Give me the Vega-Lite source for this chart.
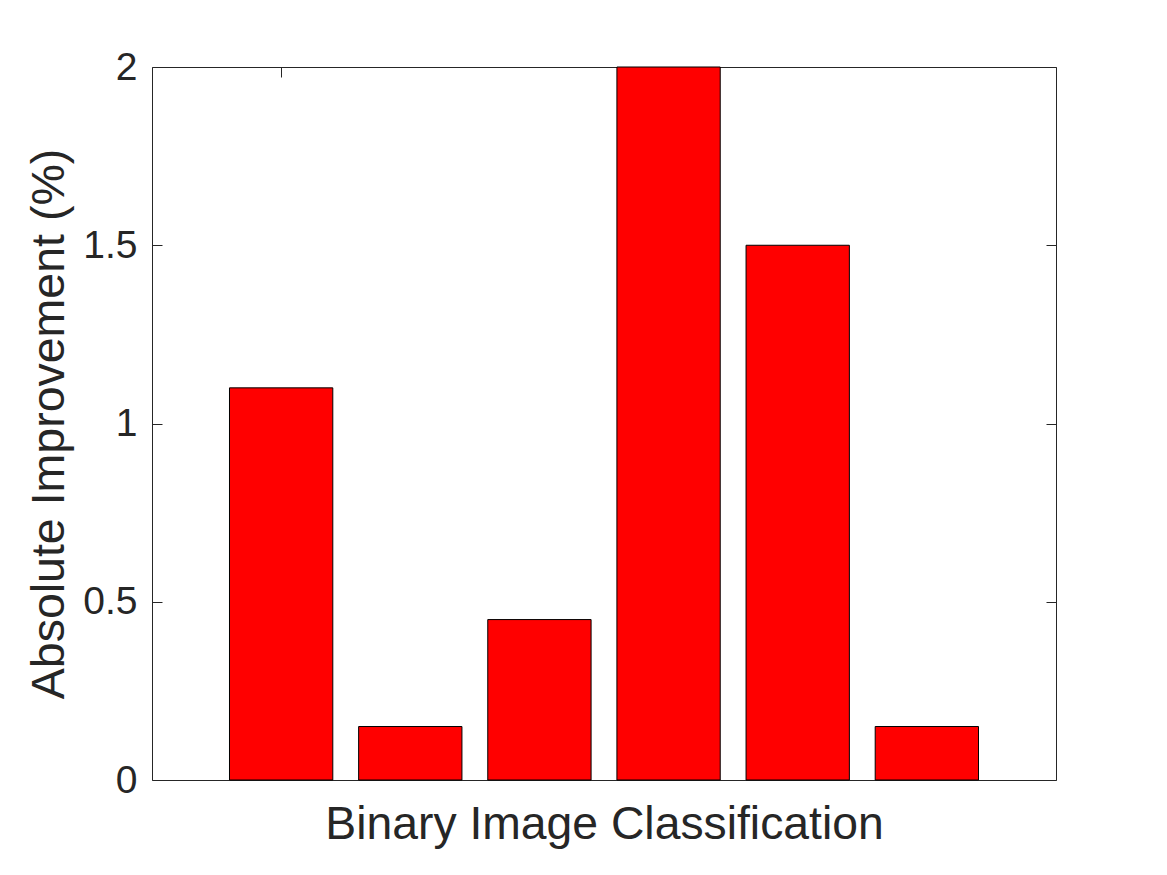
{
  "$schema": "https://vega.github.io/schema/vega-lite/v6.json",
  "width": 904,
  "height": 713,
  "autosize": {"type": "none"},
  "padding": {"left": 152, "top": 67, "right": 111, "bottom": 95},
  "background": "white",
  "config": {
    "view": {"stroke": null},
    "font": "Liberation Sans",
    "axis": {
      "grid": false,
      "domainColor": "#262626",
      "domainWidth": 1,
      "tickColor": "#262626",
      "tickWidth": 1,
      "labelColor": "#262626",
      "titleColor": "#262626",
      "titleFontWeight": "normal",
      "labelFont": "Liberation Sans",
      "titleFont": "Liberation Sans"
    }
  },
  "data": {
    "values": [
      {"cat": "1", "value": 1.1},
      {"cat": "2", "value": 0.15},
      {"cat": "3", "value": 0.45},
      {"cat": "4", "value": 2.0},
      {"cat": "5", "value": 1.5},
      {"cat": "6", "value": 0.15}
    ]
  },
  "layer": [
    {
      "mark": {"type": "bar", "fill": "#ff0000", "stroke": "#000000", "strokeWidth": 1},
      "encoding": {
        "x": {
          "field": "cat",
          "type": "nominal",
          "sort": null,
          "scale": {"paddingInner": 0.2, "paddingOuter": 0.6},
          "axis": {
            "orient": "bottom",
            "values": ["1"],
            "labels": false,
            "tickSize": -10,
            "title": "Binary Image Classification",
            "titleFontSize": 46.3,
            "titleBaseline": "alphabetic",
            "titleY": 58,
            "titleAlign": "center"
          }
        },
        "y": {
          "field": "value",
          "type": "quantitative",
          "scale": {"domain": [0, 2], "nice": false, "zero": true},
          "axis": {
            "orient": "left",
            "values": [0, 0.5, 1, 1.5, 2],
            "format": "~g",
            "tickSize": -10,
            "labelFontSize": 39,
            "labelPadding": 25,
            "labelFlush": false,
            "labelOverlap": false,
            "title": "Absolute Improvement (%)",
            "titleFontSize": 46.5,
            "titleAngle": 270,
            "titleBaseline": "alphabetic",
            "titleAlign": "center",
            "titleX": -89,
            "titleY": 356.5
          }
        }
      }
    },
    {
      "mark": {"type": "bar", "opacity": 0},
      "encoding": {
        "x": {
          "field": "cat",
          "type": "nominal",
          "sort": null,
          "axis": {
            "orient": "top",
            "values": ["1"],
            "labels": false,
            "tickSize": -10,
            "title": null
          }
        },
        "y": {
          "field": "value",
          "type": "quantitative",
          "axis": {
            "orient": "right",
            "values": [0, 0.5, 1, 1.5, 2],
            "labels": false,
            "tickSize": -10,
            "title": null
          }
        }
      }
    }
  ],
  "resolve": {"axis": {"x": "independent", "y": "independent"}}
}
